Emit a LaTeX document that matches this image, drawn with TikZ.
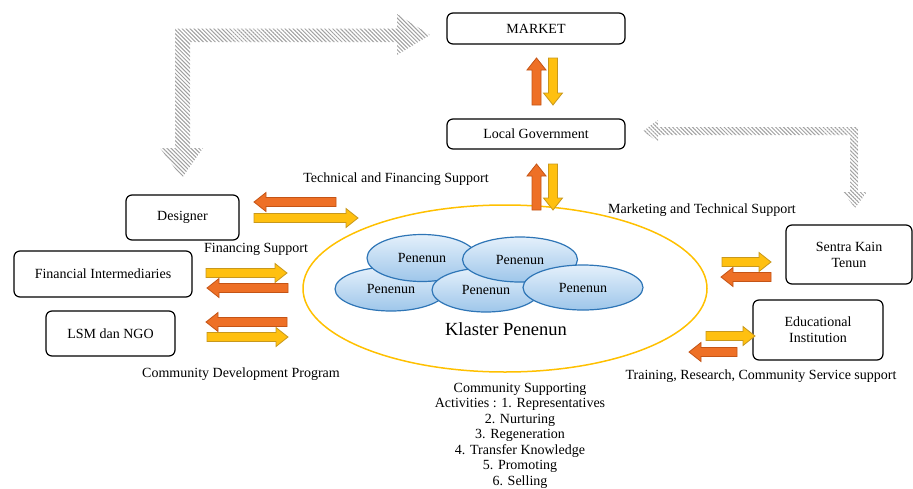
\documentclass[tikz,border=0pt]{standalone}
\usepackage{fontspec}
\setmainfont{Liberation Serif}
\usetikzlibrary{shapes.geometric,patterns.meta}

\definecolor{arrOrange}{RGB}{238,112,38}
\definecolor{arrOrangeDk}{RGB}{196,84,22}
\definecolor{arrYellow}{RGB}{255,192,16}
\definecolor{arrYellowDk}{RGB}{200,152,28}
\definecolor{ringYellow}{RGB}{255,192,0}
\definecolor{cellBlue}{RGB}{46,117,182}
\definecolor{cellTop}{RGB}{228,240,251}
\definecolor{cellBot}{RGB}{158,198,234}
\definecolor{hatchGray}{RGB}{160,160,160}

\tikzset{
  box/.style={draw, rounded corners=6pt, line width=1.2pt, align=center,
    inner sep=0pt, font=\fontsize{14}{16}\selectfont},
  cell/.style={ellipse, draw=cellBlue, line width=1.2pt, top color=cellTop,
    bottom color=cellBot, inner sep=0pt, font=\fontsize{14}{16}\selectfont},
  lbl/.style={font=\fontsize{14}{15.5}\selectfont, align=center, inner sep=0pt},
  orangearrow/.style={fill=arrOrange, draw=arrOrangeDk, line width=0.8pt},
  yellowarrow/.style={fill=arrYellow, draw=arrYellowDk, line width=0.8pt},
  hatch/.style={pattern={Lines[angle=-45,distance=2.8pt,line width=1pt]},
    pattern color=hatchGray},
}

% block arrow: style, tail point, direction angle, length
\newcommand\blockarrow[4]{%
  \path[#1, shift={#2}, rotate=#3]
    (0,-4.5) -- ({#4-12},-4.5) -- ({#4-12},-9.5) -- (#4,0)
    -- ({#4-12},9.5) -- ({#4-12},4.5) -- (0,4.5) -- cycle;}

\begin{document}
\begin{tikzpicture}[x=1pt, y=-1pt]
\useasboundingbox (0,0) rectangle (913,488);

% hatched flow arrows
\fill[hatch] (175,28.5) -- (397,28.5) -- (397,14) -- (430,35) -- (397,55)
  -- (397,42) -- (190,42) -- (190,148) -- (203,148) -- (182,178)
  -- (160,148) -- (175,148) -- cycle;
\fill[hatch] (643,131) -- (658,120) -- (658,127) -- (858,127) -- (858,192)
  -- (867,192) -- (855,208) -- (843,192) -- (850,192) -- (850,135)
  -- (658,135) -- (658,142) -- cycle;

% actors
\node[box, minimum width=178, minimum height=31] (market) at (536,28.5) {MARKET};
\node[box, minimum width=178, minimum height=30] (gov) at (536,134) {Local Government};
\node[box, minimum width=113, minimum height=45] (designer) at (182.5,217.5) {Designer};
\node[box, minimum width=178, minimum height=46] (finint) at (103,274) {Financial Intermediaries};
\node[box, minimum width=129, minimum height=45] (lsm) at (110.5,333.5) {LSM dan NGO};
\node[box, minimum width=126, minimum height=59] (sentra) at (849,254.5) {Sentra Kain\\Tenun};
\node[box, minimum width=130, minimum height=60] (edu) at (818,330) {Educational\\Institution};

% weaver cluster
\node[ellipse, draw=ringYellow, line width=1.5pt, minimum width=404,
  minimum height=167, inner sep=0pt] (klaster) at (505,288.5) {};
\node[cell, minimum width=112, minimum height=44] (p3) at (391,289) {Penenun};
\node[cell, minimum width=110, minimum height=47] (p1) at (422,258) {Penenun};
\node[cell, minimum width=108, minimum height=44] (p4) at (486,290) {Penenun};
\node[cell, minimum width=115, minimum height=45] (p2) at (520,259.5) {Penenun};
\node[cell, minimum width=120, minimum height=45] (p5) at (583,287.5) {Penenun};
\node[lbl, font=\fontsize{18.5}{20}\selectfont] (kname) at (506,329) {Klaster Penenun};

% exchange arrows
\blockarrow{orangearrow}{(536.5,105)}{90}{47}
\blockarrow{yellowarrow}{(553,58)}{-90}{47}
\blockarrow{orangearrow}{(536.5,210)}{90}{46}
\blockarrow{yellowarrow}{(553,164)}{-90}{46}

\blockarrow{orangearrow}{(336,202)}{180}{82}
\blockarrow{yellowarrow}{(254,218)}{0}{104}
\blockarrow{yellowarrow}{(206,273)}{0}{81}
\blockarrow{orangearrow}{(288,288)}{180}{81}
\blockarrow{orangearrow}{(287,322)}{180}{81}
\blockarrow{yellowarrow}{(207,337)}{0}{81}

\blockarrow{yellowarrow}{(722,262)}{0}{49}
\blockarrow{orangearrow}{(771,277)}{180}{50}
\blockarrow{yellowarrow}{(706,336)}{0}{49}
\blockarrow{orangearrow}{(737,352)}{180}{48}

% labels
\node[lbl] (ltech) at (396,179) {Technical and Financing Support};
\node[lbl] (lfin) at (256,249.5) {Financing Support};
\node[lbl] (lcdp) at (241,374) {Community Development Program};
\node[lbl] (lmkt) at (702,210) {Marketing and Technical Support};
\node[lbl] (ltrain) at (761,376) {Training, Research, Community Service support};
\node[lbl, anchor=north] (lact) at (520,383) {Community Supporting\\
  Activities : 1. Representatives\\2. Nurturing\\3. Regeneration\\
  4. Transfer Knowledge\\5. Promoting\\6. Selling};
\end{tikzpicture}
\end{document}
